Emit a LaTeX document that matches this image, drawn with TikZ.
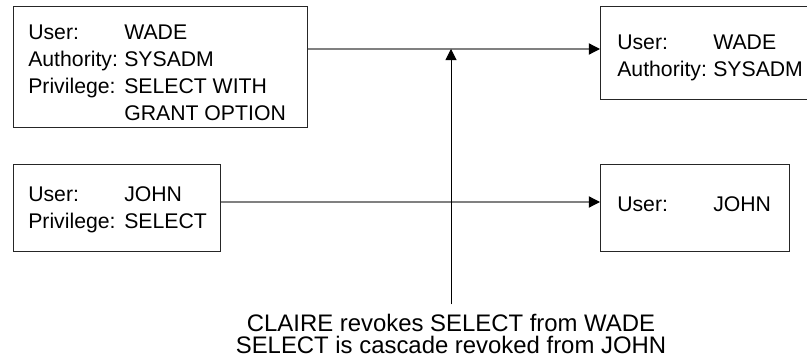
\documentclass[tikz,border=0pt]{standalone}
\usepackage{fontspec}
\setmainfont{Liberation Sans}
\usetikzlibrary{arrows.meta,calc}

\begin{document}
\begin{tikzpicture}[
  box/.style={rectangle, draw=black!85, line width=0.7pt, inner sep=0pt, anchor=south west},
  info/.style={anchor=base west, inner sep=0pt, font=\fontsize{15.1}{19.2}\selectfont},
  arrow/.style={-{Triangle[length=2.8mm, width=2.8mm, color=black]}},
  grant/.style={arrow, draw=black!50, line width=0.9pt},
  revoke/.style={arrow, draw=black, line width=0.7pt},
]
\useasboundingbox (0,0) rectangle (20.175,9);
\clip (0,0) rectangle (20.175,9);

% === GRANTORS (left) ===
\node[box, minimum width=7.35cm, minimum height=3.025cm] (wadeSrc) at (0.325,5.8) {};
\node[info] (wadeSrcTxt) at (0.7,8.0125)
  {\begin{tabular}[t]{@{}p{2.4cm}@{}l@{}}User: & WADE\\ Authority: & SYSADM\\ Privilege: & SELECT WITH\\ & GRANT OPTION\end{tabular}};

\node[box, minimum width=5.175cm, minimum height=2.175cm] (johnSrc) at (0.325,2.7) {};
\node[info] (johnSrcTxt) at (0.7,3.9625)
  {\begin{tabular}[t]{@{}p{2.4cm}@{}l@{}}User: & JOHN\\ Privilege: & SELECT\end{tabular}};

% === GRANTEES (right) ===
\node[box, minimum width=5.3cm, minimum height=2.325cm] (wadeDst) at (15.0,6.5) {};
\node[info] (wadeDstTxt) at (15.425,7.7625)
  {\begin{tabular}[t]{@{}p{2.4cm}@{}l@{}}User: & WADE\\ Authority: & SYSADM\end{tabular}};

\node[box, minimum width=4.725cm, minimum height=2.175cm] (johnDst) at (15.0,2.7) {};
\node[info] (johnDstTxt) at (15.425,3.7125)
  {\begin{tabular}[t]{@{}p{2.4cm}@{}l@{}}User: & JOHN\end{tabular}};

% === GRANT PATHS ===
\coordinate (wadeLvl) at (0,7.775);
\coordinate (johnLvl) at (0,3.95);
\draw[grant] (wadeSrc.east |- wadeLvl) -- (wadeDst.west |- wadeLvl);
\draw[grant] (johnSrc.east |- johnLvl) -- (johnDst.west |- johnLvl);

% === REVOKE ===
\node[font=\fontsize{17}{15.6}\selectfont, align=center, inner sep=0pt] (revokeNote) at (11.275,0.65)
  {CLAIRE revokes SELECT from WADE\\SELECT is cascade revoked from JOHN};
\coordinate (revokeFoot) at ($(revokeNote.north)+(0,0.24)$);
\draw[revoke] (revokeFoot) -- (revokeFoot |- wadeLvl);
\end{tikzpicture}
\end{document}
